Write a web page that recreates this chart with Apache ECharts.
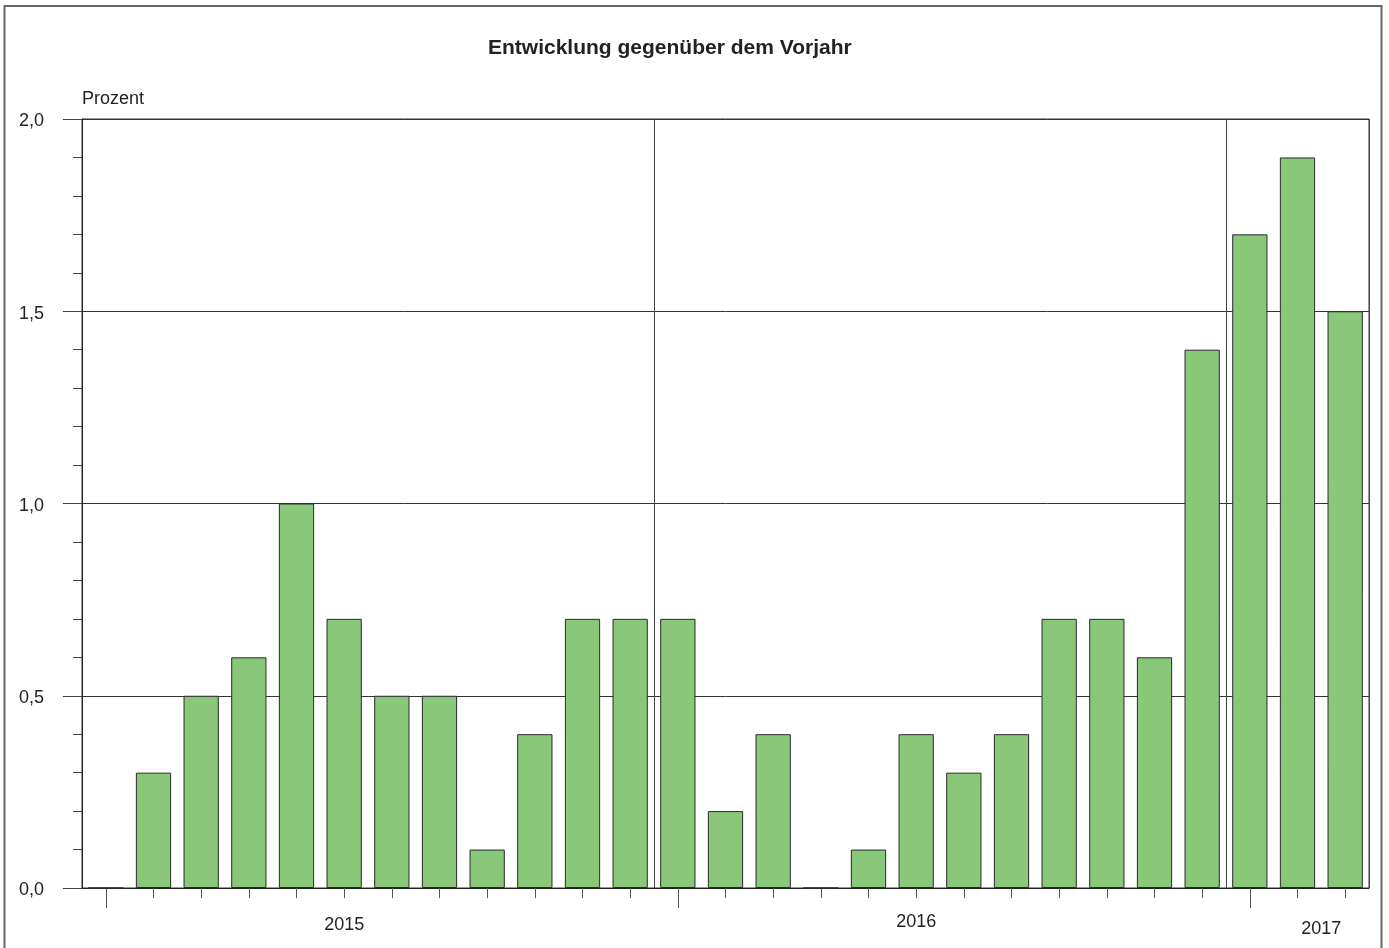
<!DOCTYPE html>
<html>
<head>
<meta charset="utf-8">
<title>Entwicklung gegenüber dem Vorjahr</title>
<script src="https://cdn.jsdelivr.net/npm/echarts@6/dist/echarts.min.js"></script>
<style>
  html, body { margin: 0; padding: 0; background: #fff; }
  #chart { width: 1389px; height: 948px; }
</style>
</head>
<body>
<div id="chart"></div>
<script>
// Monate Jan 2015 - Mär 2017
const months = [
  '2015-01', '2015-02', '2015-03', '2015-04', '2015-05', '2015-06',
  '2015-07', '2015-08', '2015-09', '2015-10', '2015-11', '2015-12',
  '2016-01', '2016-02', '2016-03', '2016-04', '2016-05', '2016-06',
  '2016-07', '2016-08', '2016-09', '2016-10', '2016-11', '2016-12',
  '2017-01', '2017-02', '2017-03'
]
// Veränderung gegenüber Vorjahr in Prozent
const values = [
  0.0, 0.3, 0.5, 0.6, 1.0, 0.7, 0.5, 0.5, 0.1, 0.4, 0.7, 0.7,
  0.7, 0.2, 0.4, 0.0, 0.1, 0.4, 0.3, 0.4, 0.7, 0.7, 0.6, 1.4,
  1.7, 1.9, 1.5
]
// Jahresbeschriftung und ihre Lage auf der Monatsachse
const years = ['2015', '2016', '2017']
const yearPos = [5.5, 17.5, 26]

const chart = echarts.init(document.getElementById('chart'))
const font = '"Liberation Sans", Arial, sans-serif'

const option = {
  animation: false,
  textStyle: { fontFamily: font },
  title: {
    text: 'Entwicklung gegenüber dem Vorjahr',
    left: 483,
    top: 33,
    textStyle: { fontSize: 21, fontWeight: 'bold', color: '#222', fontFamily: font }
  },
  graphic: [
    {
      type: 'rect',
      shape: { x: 4.5, y: 6, width: 1377, height: 960 },
      style: { fill: 'none', stroke: '#666', lineWidth: 2 },
      silent: true
    }
  ],
  grid: {
    left: 82,
    right: 20,
    top: 119,
    bottom: 60,
    show: true,
    borderColor: '#333',
    borderWidth: 1
  },
  xAxis: [
    {
      type: 'category',
      data: months,
      axisLine: { lineStyle: { color: '#222', width: 1 } },
      axisTick: { show: true, alignWithLabel: true, interval: 0, length: 10, lineStyle: { color: '#555' } },
      axisLabel: { show: false },
      splitLine: {
        show: true,
        interval: (i) => i === 12 || i === 24,
        lineStyle: { color: '#444', width: 1 }
      }
    },
    {
      type: 'category',
      data: months,
      position: 'bottom',
      axisLine: { show: false },
      axisTick: {
        show: true,
        alignWithLabel: true,
        length: 20,
        interval: (i, v) => v.slice(5) === '01',
        lineStyle: { color: '#555' }
      },
      axisLabel: { show: false },
      splitLine: { show: false }
    },
    {
      type: 'value',
      position: 'bottom',
      min: 0,
      max: months.length,
      axisLine: { show: false },
      axisTick: { show: false },
      splitLine: { show: false },
      axisLabel: {
        customValues: yearPos,
        margin: 25,
        fontSize: 18,
        color: '#222',
        formatter: (v) => {
          const i = yearPos.indexOf(v)
          return '{y' + i + '|' + years[i] + '}'
        },
        rich: {
          y0: { fontSize: 18, color: '#222', padding: [3, 0, 0, 0] },
          y1: { fontSize: 18, color: '#222' },
          y2: { fontSize: 18, color: '#222', padding: [7, 0, 0, 0] }
        }
      }
    }
  ],
  yAxis: {
    type: 'value',
    min: 0,
    max: 2,
    interval: 0.5,
    name: 'Prozent',
    nameLocation: 'end',
    nameGap: 11,
    nameTextStyle: { align: 'left', verticalAlign: 'bottom', fontSize: 18, color: '#222' },
    axisLine: { show: true, lineStyle: { color: '#222' } },
    axisTick: { show: true, length: 19, lineStyle: { color: '#444' } },
    minorTick: { show: true, splitNumber: 5, length: 9, lineStyle: { color: '#444' } },
    axisLabel: {
      margin: 38,
      fontSize: 18,
      color: '#222',
      formatter: (v) => '{v|' + v.toFixed(1).replace('.', ',') + '}',
      rich: {
        v: { fontSize: 18, color: '#222', padding: [5, 0, 0, 0] }
      }
    },
    splitLine: { show: true, lineStyle: { color: '#333', width: 1 } }
  },
  series: [
    {
      type: 'bar',
      data: values,
      barCategoryGap: '26%',
      itemStyle: { color: '#88c878', borderColor: '#2a2a2a', borderWidth: 1 }
    }
  ]
}

chart.setOption(option)
window.addEventListener('resize', () => chart.resize())
</script>
</body>
</html>
